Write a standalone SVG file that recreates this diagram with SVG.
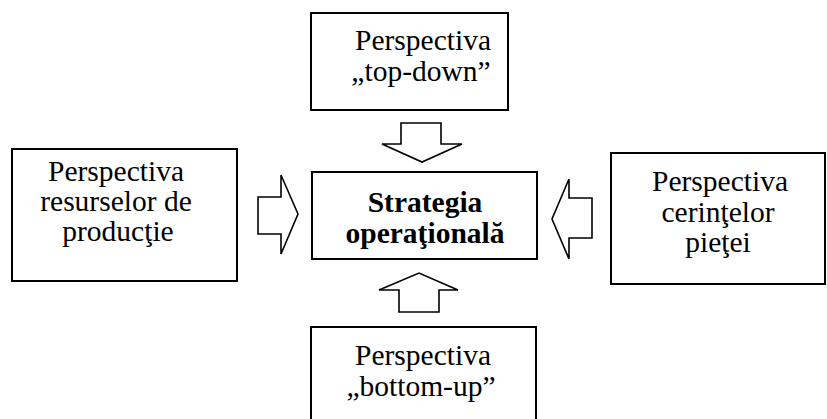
<svg xmlns="http://www.w3.org/2000/svg" width="827" height="419" viewBox="0 0 827 419">
<style>
.box{fill:#fff;stroke:#000;stroke-width:2}
.arr{fill:#fff;stroke:#000;stroke-width:1.6;stroke-linejoin:miter}
.t{font-family:"Liberation Serif","Times New Roman",serif;font-size:29.5px;fill:#000;text-anchor:middle}
.b{font-family:"Liberation Serif","Times New Roman",serif;font-size:29.5px;font-weight:bold;fill:#000;text-anchor:middle}
</style>
<rect width="827" height="419" fill="#fff"/>
<g id="top">
<rect class="box" x="311" y="13" width="197" height="97"/>
<text class="t" x="423" y="50">Perspectiva</text>
<text class="t" x="421" y="81">„top-down”</text>
</g>
<g id="left">
<rect class="box" x="12" y="149" width="225" height="132"/>
<text class="t" x="116" y="181">Perspectiva</text>
<text class="t" x="116" y="211">resurselor de</text>
<text class="t" x="118" y="241">producţie</text>
</g>
<g id="center">
<rect class="box" x="312" y="172" width="225" height="87"/>
<text class="b" x="425" y="212">Strategia</text>
<text class="b" x="425" y="243">operaţională</text>
</g>
<g id="right">
<rect class="box" x="611" y="153" width="214" height="131"/>
<text class="t" x="720" y="191">Perspectiva</text>
<text class="t" x="718" y="222">cerinţelor</text>
<text class="t" x="718" y="252">pieţei</text>
</g>
<g id="bottom">
<rect class="box" x="311" y="327" width="225" height="100"/>
<text class="t" x="423" y="365">Perspectiva</text>
<text class="t" x="421" y="396">„bottom-up”</text>
</g>
<g id="connectors">
<polygon class="arr" points="401,123 441,123 441,144 462,144 422,162 382,144 401,144"/>
<polygon class="arr" points="258,197 281,197 281,175 298,214 281,254 281,234 258,234"/>
<polygon class="arr" points="592,198 569,198 569,179 552,219 569,259 569,238 592,238"/>
<polygon class="arr" points="399,312 439,312 439,290 458,290 419,273 379,290 399,290"/>
</g>
</svg>
